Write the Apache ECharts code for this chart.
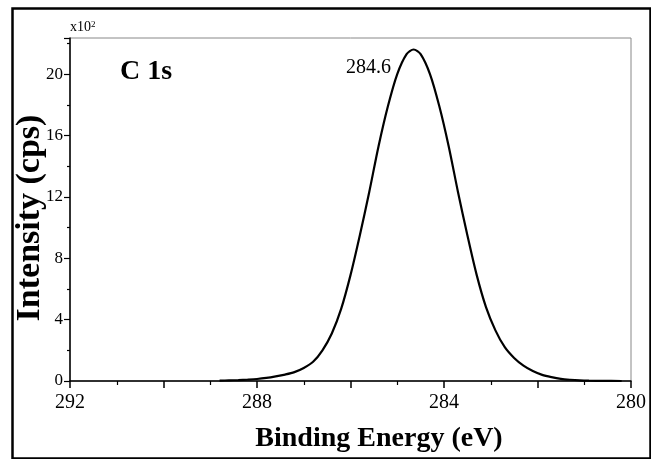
<!DOCTYPE html>
<html>
<head>
<meta charset="utf-8">
<script src="https://cdn.jsdelivr.net/npm/echarts@6/dist/echarts.min.js"></script>
<style>
html,body{margin:0;padding:0;background:#fff;}
#chart{width:651px;height:459px;}
</style>
</head>
<body>
<div id="chart"></div>
<script>
// Binding energy (eV) and intensity (x10^2 cps)
var energies = [288.8, 288.6, 288.4, 288.2, 288.0, 287.8, 287.6, 287.4, 287.2, 287.0,
                286.8, 286.6, 286.4, 286.2, 286.0, 285.8, 285.6, 285.4, 285.2, 285.0,
                284.8, 284.65, 284.5, 284.3, 284.1, 283.9, 283.7, 283.5, 283.3, 283.1,
                282.9, 282.7, 282.5, 282.3, 282.1, 281.9, 281.7, 281.5, 281.3, 281.1,
                280.9, 280.6, 280.2];
var intensities = [0.02, 0.04, 0.06, 0.09, 0.13, 0.2, 0.3, 0.42, 0.58, 0.85,
                   1.25, 2.0, 3.1, 4.7, 6.9, 9.5, 12.3, 15.3, 17.9, 20.0,
                   21.3, 21.6, 21.3, 20.0, 17.9, 15.3, 12.3, 9.5, 6.9, 4.8,
                   3.3, 2.2, 1.5, 1.0, 0.65, 0.4, 0.25, 0.14, 0.08, 0.04,
                   0.02, 0.01, 0.0];
var xTickLabels = [280, 284, 288, 292];
var yTickLabels = [0, 4, 8, 12, 16, 20];
var peakLabel = { energy: 284.6, intensity: 21.6, text: '284.6' };
var panelLabel = 'C 1s';
var xTitle = 'Binding Energy (eV)';
var yTitle = 'Intensity (cps)';

var serif = '"Liberation Serif", "DejaVu Serif", serif';
var seriesData = energies.map(function (e, i) { return [e, intensities[i]]; });

var chart = echarts.init(document.getElementById('chart'));
chart.setOption({
  animation: false,
  backgroundColor: '#fff',
  grid: { left: 70, top: 38, right: 20, bottom: 78, show: true, borderColor: '#888', borderWidth: 1,
          containLabel: false, outerBoundsMode: 'none' },
  xAxis: {
    type: 'value', inverse: true, min: 280, max: 292, interval: 2,
    name: xTitle, nameLocation: 'middle', nameGap: 44,
    nameTextStyle: { fontFamily: serif, fontWeight: 'bold', fontSize: 28, color: '#000', padding: [0, 0, 0, 57] },
    axisLine: { lineStyle: { color: '#000', width: 1.5 } },
    axisTick: { length: 7, lineStyle: { color: '#000', width: 1.5 } },
    minorTick: { show: true, splitNumber: 2, length: 4, lineStyle: { color: '#000', width: 1.2 } },
    axisLabel: {
      margin: 12, fontFamily: serif, fontSize: 20, color: '#000',
      formatter: function (v) { return xTickLabels.indexOf(v) >= 0 ? String(v) : ''; }
    },
    splitLine: { show: false }
  },
  yAxis: {
    type: 'value', min: 0, max: 22.35, interval: 4,
    axisLine: { show: true, lineStyle: { color: '#000', width: 1.5 } },
    axisTick: { show: true, length: 6, lineStyle: { color: '#000', width: 1.2 } },
    minorTick: { show: true, splitNumber: 2, length: 3, lineStyle: { color: '#000', width: 1.2 } },
    axisLabel: {
      margin: 7, fontFamily: serif, fontSize: 17, color: '#000',
      formatter: function (v) { return yTickLabels.indexOf(v) >= 0 ? String(v) : ''; }
    },
    splitLine: { show: false }
  },
  series: [{
    type: 'line',
    data: seriesData,
    smooth: 0.3,
    showSymbol: false,
    lineStyle: { color: '#000', width: 2.2 },
    markPoint: {
      symbol: 'circle', symbolSize: 0,
      data: [{ coord: [peakLabel.energy, peakLabel.intensity] }],
      label: {
        show: true, formatter: peakLabel.text, position: 'left', offset: [-20, 18],
        fontFamily: serif, fontSize: 20, color: '#000'
      }
    }
  }],
  graphic: [
    { type: 'rect', left: 10, top: 6, shape: { width: 638, height: 450 },
      style: { fill: 'none', stroke: '#000', lineWidth: 2.5 }, silent: true },
    { type: 'text', x: 30, y: 218, rotation: Math.PI / 2,
      style: { text: yTitle, fontFamily: serif, fontWeight: 'bold', fontSize: 34, fill: '#000',
               align: 'center', verticalAlign: 'middle' } },
    { type: 'text', left: 120, top: 58,
      style: { text: panelLabel, fontFamily: serif, fontWeight: 'bold', fontSize: 28, fill: '#000' } },
    { type: 'text', left: 70, top: 20,
      style: { text: '{a|x10}{b|2}', rich: {
        a: { fontFamily: serif, fontSize: 14, fill: '#000' },
        b: { fontFamily: serif, fontSize: 9, fill: '#000', verticalAlign: 'top', padding: [0, 0, 6, 0] } } } }
  ]
});
</script>
</body>
</html>
